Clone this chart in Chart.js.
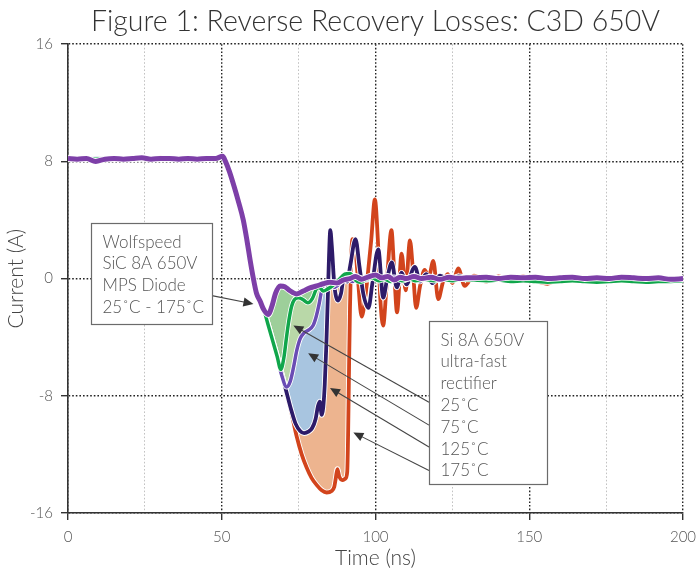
<!DOCTYPE html>
<html>
<head>
<meta charset="utf-8">
<script src="https://cdn.jsdelivr.net/npm/chart.js@4.4.1/dist/chart.umd.min.js"></script>
<style>
  html, body { margin: 0; padding: 0; background: #fff; }
  #wrap { width: 696px; height: 571px; }
</style>
</head>
<body>
<div id="wrap"><canvas id="chart" width="696" height="571"></canvas></div>
<script>
// ---- data (time in ns, current in A) ----

// steady forward-current part, shared time base
var flatT = [0, 3, 6, 9, 12, 15, 18, 21, 24, 27, 30, 33, 36, 39, 42, 45, 48];
// turn-off slope, same for every curve
var dropT = [50.3, 51.2, 52.5, 54, 55.5, 57, 58.2, 59.2, 60.2, 61.3, 62.5];
var dropI = [8.35, 8.0, 7.3, 6.3, 5.2, 4.0, 2.6, 1.3, 0.1, -1.0, -1.55];
// the Si rectifiers keep falling together a little longer
var siDropT = [63.5, 65, 66.5, 68];
var siDropI = [-2.0, -3.1, -4.2, -5.3];
// settled tail, shared time base
var tailT = [132, 136, 140, 144, 148, 152, 156, 160, 164, 168, 172, 176, 180, 184, 188, 192, 196, 200];

// Wolfspeed SiC MPS diode, 25-175 C (all on top of each other)
var sicFlat = [8.2, 8.15, 8.2, 8.0, 8.15, 8.2, 8.15, 8.2, 8.25, 8.15, 8.2, 8.2, 8.15, 8.2, 8.15, 8.2, 8.2];
var sicT = [63.6, 65.1, 66.3, 67.5, 69, 70.5, 72, 74.4, 76.5, 78.5, 80.9, 83, 85.2, 87.5, 89.5, 91.7, 93.5, 95.5, 97.5, 100, 102, 104, 106, 108, 110, 112.5, 115, 118, 121, 124, 127, 129.5];
var sicI = [-2.1, -2.45, -1.9, -1.0, -0.5, -0.55, -0.8, -1.05, -0.85, -0.65, -0.5, -0.35, -0.25, -0.3, -0.1, 0, 0.15, -0.05, 0.1, 0.25, 0.05, 0.15, -0.1, 0.1, 0, 0.15, 0, 0.1, -0.05, 0.1, 0, 0.05];
var sicTail = [0.05, 0.1, 0, 0.1, 0.05, 0.1, 0, 0.05, 0.1, 0, 0.05, 0, 0.1, 0.05, 0, 0.05, -0.05, 0];

// Si ultra-fast rectifier, 25 C
var si25Flat = [8.15, 8.2, 8.2, 8.15, 8.2, 8.25, 8.2, 8.2, 8.15, 8.25, 8.2, 8.15, 8.2, 8.25, 8.2, 8.2, 8.25];
var si25T = [69.2, 70.2, 71, 71.8, 72.7, 73.6, 75, 76.5, 78, 79.5, 80.8, 81.8, 83, 84.5, 86, 88, 90, 91.7, 93.5, 95, 97, 99, 101, 103, 105, 107, 109, 111, 113, 116, 119, 122, 125, 128];
var si25I = [-6.2, -5.4, -4.1, -2.9, -1.9, -1.45, -1.3, -1.45, -1.65, -1.35, -0.7, -0.6, -0.85, -0.7, -0.5, -0.1, 0.3, 0.35, -0.1, -0.25, -0.05, 0.05, -0.15, -0.05, -0.2, -0.05, -0.15, 0, -0.15, -0.05, -0.15, -0.05, -0.15, -0.05];
var si25Tail = [-0.1, -0.15, -0.1, -0.2, -0.15, -0.2, -0.25, -0.2, -0.15, -0.2, -0.25, -0.2, -0.15, -0.2, -0.25, -0.2, -0.2, -0.15];

// Si, 75 C
var si75Flat = [8.2, 8.2, 8.15, 8.2, 8.2, 8.15, 8.2, 8.25, 8.2, 8.2, 8.15, 8.2, 8.2, 8.15, 8.2, 8.2, 8.2];
var si75T = [69.5, 71.1, 72.3, 73.3, 74.4, 75.5, 76.8, 78.3, 79.7, 80.7, 81.6, 82.4, 83.2, 84.5, 86.5, 88.5, 90.5, 92.5, 94.5, 97, 100, 103, 106, 109, 112, 115, 118, 121, 124, 127, 130];
var si75I = [-6.6, -7.4, -7.0, -6.1, -4.9, -4.1, -3.7, -3.5, -3.2, -2.6, -1.8, -0.9, -0.35, -0.2, -0.6, -0.3, 0.1, -0.2, 0.1, -0.1, 0.15, -0.05, 0.1, 0, 0.1, -0.05, 0.05, 0, 0.05, 0, 0.05];
var si75Tail = [0, 0.05, -0.05, 0.05, 0, 0, 0.05, 0, -0.05, 0, 0.05, 0, 0, 0.05, 0, 0, 0, 0.05];

// Si, 125 C
var si125Flat = [8.2, 8.15, 8.2, 8.2, 8.15, 8.2, 8.2, 8.15, 8.2, 8.2, 8.2, 8.15, 8.2, 8.2, 8.2, 8.15, 8.2];
var si125T = [69.5, 71, 72.5, 74, 75.5, 76.8, 78.2, 79.4, 80.5, 81.3, 81.9, 82.5, 83, 83.5, 84, 84.5, 84.9, 85.3, 85.8, 86.6, 87.8, 88.8, 89.8, 90.8, 91.8, 93.5, 94.8, 96, 97.7, 99, 100.9, 102.5, 103.8, 105.3, 106.9, 108.5, 110, 112.8, 114.5, 116.5, 118.5, 121, 124, 127, 130];
var si125I = [-6.5, -7.7, -8.9, -9.9, -10.4, -10.55, -10.45, -10.2, -9.6, -8.7, -8.4, -9.3, -8.8, -7.2, -4.6, -1.2, 1.6, 3.3, 2.2, -0.4, -1.5, -1.0, 0.2, -0.2, 0.9, 2.7, 0.8, -1.0, -2.0, -0.3, 2.0, -1.3, 0, 1.1, -0.6, 0.4, -0.4, 0.8, -0.2, 0.3, -0.3, 0.2, -0.1, 0.15, 0];
var si125Tail = [-0.1, 0.1, 0, 0.05, -0.05, 0.05, 0, 0, 0.05, -0.05, 0, 0.05, 0, 0, 0.05, 0, 0, 0];

// Si, 175 C
var si175Flat = [8.15, 8.2, 8.2, 8.2, 8.2, 8.15, 8.2, 8.2, 8.2, 8.15, 8.25, 8.2, 8.2, 8.2, 8.15, 8.2, 8.2];
var si175T = [69.5, 71, 72.7, 74.4, 76, 77.6, 79.2, 80.9, 82.5, 84.1, 85.7, 86.6, 87.1, 87.6, 88.2, 89.2, 90.2, 90.8, 91.1, 91.4, 91.7, 92.0, 92.5, 93.2, 94.2, 95.5, 96.6, 97.6, 98.6, 99.8, 100.8, 101.6, 102.5, 103.6, 105.2, 106.0, 107.0, 108.5, 109.8, 111.2, 112.2, 113.2, 114.5, 116, 117.3, 118.8, 120.4, 122, 123.5, 125, 126.9, 129];
var si175I = [-6.5, -7.8, -9.2, -10.8, -12.0, -12.9, -13.6, -14.1, -14.45, -14.6, -14.5, -14.2, -13.6, -13.0, -13.5, -13.75, -13.65, -13.2, -10.5, -6, -2, 0.8, 2.7, 2.5, 0.2, -2.6, -1.4, 0.5, 2.6, 5.4, 2.5, -1.5, -3.2, -0.5, 3.3, 0.8, -2.3, 1.7, -0.8, 2.6, 0.5, -2.0, -0.5, 0.6, 0.1, 1.2, -1.4, -0.2, 0.3, -0.3, 0.7, -0.5];
var si175Tail = [0.2, -0.2, 0.15, -0.1, 0.15, -0.15, -0.35, 0.05, 0.1, -0.1, 0.05, 0.1, -0.05, 0, 0.1, -0.05, 0.05, 0];

var xTicks = [0, 50, 100, 150, 200];
var yTicks = [-16, -8, 0, 8, 16];

var FONT = 'Lato, "Open Sans", "Noto Sans", sans-serif';

// glue the pieces of one waveform into {x, y} points
function waveform(flatI, ownT, ownI, tailI, isSi) {
   var t = flatT.concat(dropT, isSi ? siDropT : [], ownT, tailT);
   var v = flatI.concat(dropI, isSi ? siDropI : [], ownI, tailI);
   var pts = [];
   for (var i = 0; i < t.length; i++) {
      pts.push({x: t[i], y: v[i]});
   }
   return pts;
}

// part of a waveform between two times, used for the shaded loss areas
function window_(pts, t0, t1) {
   return pts.filter(function(p) { return p.x >= t0 && p.x <= t1; });
}

var sic = waveform(sicFlat, sicT, sicI, sicTail, false);
var si25 = waveform(si25Flat, si25T, si25I, si25Tail, true);
var si75 = waveform(si75Flat, si75T, si75I, si75Tail, true);
var si125 = waveform(si125Flat, si125T, si125I, si125Tail, true);
var si175 = waveform(si175Flat, si175T, si175I, si175Tail, true);

function lineSet(label, pts, color, width, order) {
   return {
      label: label,
      data: pts,
      borderColor: color,
      borderWidth: width,
      pointRadius: 0,
      fill: false,
      cubicInterpolationMode: 'monotone',
      order: order
   };
}

function areaSet(pts, color, order) {
   return {
      data: pts,
      borderWidth: 0,
      borderColor: 'rgba(0,0,0,0)',
      backgroundColor: color,
      pointRadius: 0,
      fill: {target: 0},
      cubicInterpolationMode: 'monotone',
      order: order
   };
}

var datasets = [
   // 0: SiC window that the loss areas are filled up to
   {
      data: window_(sic, 58, 100),
      borderWidth: 0,
      borderColor: 'rgba(0,0,0,0)',
      pointRadius: 0,
      fill: false,
      cubicInterpolationMode: 'monotone',
      order: 20
   },
   areaSet(window_(si175, 62, 92), '#edb48f', 13),
   areaSet(window_(si125, 62, 84.6), '#a8c5e0', 12),
   areaSet(window_(si75, 62, 83.3), '#b9d8a8', 11),
   areaSet(window_(si25, 62, 82), '#9dcf9a', 10),
   // thin white edge under every trace, like the original artwork
   lineSet('', si175, '#ffffff', 5.6, 5.5),
   lineSet('Si 175C', si175, '#d2441c', 3.8, 5),
   lineSet('', si125, '#ffffff', 5.6, 4.5),
   lineSet('Si 125C', si125, '#2d1b69', 3.8, 4),
   lineSet('', si75, '#ffffff', 5.2, 3.5),
   lineSet('Si 75C', si75, '#6a4cb4', 3.5, 3),
   lineSet('', si25, '#ffffff', 5.2, 2.5),
   lineSet('Si 25C', si25, '#10a64b', 3.5, 2),
   lineSet('', sic, '#ffffff', 6.6, 1.5),
   lineSet('SiC 25-175C', sic, '#7d3fa8', 5, 1)
];

// text boxes and arrows, placed in data units
var sicNote = {t0: 7.5, t1: 46.8, i0: 3.8, i1: -3.1,
   lines: ['Wolfspeed', 'SiC 8A 650V', 'MPS Diode', '25\u02DAC - 175\u02DAC']};
var siNote = {t0: 117.4, t1: 155.7, i0: -2.9, i1: -14.05,
   lines: ['Si 8A 650V', 'ultra-fast', 'rectifier', '25\u02DAC', '75\u02DAC', '125\u02DAC', '175\u02DAC']};
var arrows = [
   [46.8, -1.16, 60.3, -1.73],
   [117.4, -8.44, 73.3, -3.2],
   [117.4, -10.0, 78.1, -5.1],
   [117.4, -11.5, 85.2, -7.46],
   [117.4, -13.1, 92.8, -10.5]
];

var notesPlugin = {
   id: 'notes',
   afterDatasetsDraw: function(chart) {
      var ctx = chart.ctx;
      var xs = chart.scales.x, ys = chart.scales.y;

      function box(n) {
         var x0 = Math.round(xs.getPixelForValue(n.t0)) + 0.5;
         var x1 = Math.round(xs.getPixelForValue(n.t1)) + 0.5;
         var y0 = Math.round(ys.getPixelForValue(n.i0)) + 0.5;
         var y1 = Math.round(ys.getPixelForValue(n.i1)) + 0.5;
         ctx.fillStyle = '#fff';
         ctx.fillRect(x0, y0, x1 - x0, y1 - y0);
         ctx.strokeStyle = '#6b6b6b';
         ctx.lineWidth = 1.2;
         ctx.strokeRect(x0, y0, x1 - x0, y1 - y0);
         ctx.fillStyle = '#555';
         ctx.font = '300 17px ' + FONT;
         ctx.textAlign = 'left';
         ctx.textBaseline = 'alphabetic';
         for (var i = 0; i < n.lines.length; i++) {
            ctx.fillText(n.lines[i], x0 + 11, y0 + 24 + i * 21.8);
         }
      }

      ctx.save();
      // arrows first, boxes sit on their tails
      ctx.strokeStyle = '#444';
      ctx.fillStyle = '#333';
      ctx.lineWidth = 1.1;
      arrows.forEach(function(a) {
         var x0 = xs.getPixelForValue(a[0]), y0 = ys.getPixelForValue(a[1]);
         var x1 = xs.getPixelForValue(a[2]), y1 = ys.getPixelForValue(a[3]);
         var ang = Math.atan2(y1 - y0, x1 - x0);
         ctx.beginPath();
         ctx.moveTo(x0, y0);
         ctx.lineTo(x1 - 6 * Math.cos(ang), y1 - 6 * Math.sin(ang));
         ctx.stroke();
         ctx.beginPath();
         ctx.moveTo(x1, y1);
         ctx.lineTo(x1 - 10 * Math.cos(ang) + 4.5 * Math.sin(ang), y1 - 10 * Math.sin(ang) - 4.5 * Math.cos(ang));
         ctx.lineTo(x1 - 10 * Math.cos(ang) - 4.5 * Math.sin(ang), y1 - 10 * Math.sin(ang) + 4.5 * Math.cos(ang));
         ctx.closePath();
         ctx.fill();
      });
      box(sicNote);
      box(siNote);
      ctx.restore();
   }
};

var ctx = document.getElementById('chart').getContext('2d');
new Chart(ctx, {
   type: 'line',
   data: {datasets: datasets},
   plugins: [notesPlugin],
   options: {
      responsive: false,
      animation: false,
      layout: {padding: {left: 0, right: 13, top: 0, bottom: 0}},
      plugins: {
         legend: {display: false},
         tooltip: {enabled: false},
         filler: {drawTime: 'beforeDatasetsDraw'},
         title: {
            display: true,
            text: 'Figure 1: Reverse Recovery Losses: C3D 650V',
            fullSize: false,
            color: '#333',
            font: {family: FONT, size: 28.5, weight: 300, lineHeight: 1.2},
            padding: {top: 5, bottom: 5}
         }
      },
      scales: {
         x: {
            type: 'linear',
            min: 0,
            max: 200,
            afterFit: function(scale) {
               scale.height = 58;
               // let the "200" label hang into the right margin
               scale.paddingLeft = 0;
               scale.paddingRight = 0;
            },
            afterBuildTicks: function(scale) {
               // grid every 25 ns, labels only on xTicks
               var t = [];
               for (var v = 0; v <= 200; v += 25) t.push({value: v});
               scale.ticks = t;
            },
            ticks: {
               autoSkip: false,
               maxRotation: 0,
               padding: 8,
               color: '#555',
               font: {family: FONT, size: 15, weight: 300},
               callback: function(v) { return xTicks.indexOf(v) >= 0 ? String(v) : ''; }
            },
            grid: {
               color: function(c) { return xTicks.indexOf(c.tick.value) >= 0 ? '#222' : '#c2c2c2'; },
               lineWidth: function(c) { return xTicks.indexOf(c.tick.value) >= 0 ? 1.4 : 1; },
               tickColor: function(c) { return xTicks.indexOf(c.tick.value) >= 0 ? '#333' : 'rgba(0,0,0,0)'; },
               tickLength: 7
            },
            border: {color: '#333', width: 1.6, dash: [1.6, 2]},
            title: {
               display: true,
               text: 'Time (ns)',
               color: '#444',
               font: {family: FONT, size: 21, weight: 300, lineHeight: 1.2},
               padding: {top: 0, bottom: 0}
            }
         },
         y: {
            type: 'linear',
            min: -16,
            max: 16,
            afterFit: function(scale) {
               scale.width = 68;
               scale.paddingTop = 0;
               scale.paddingBottom = 0;
            },
            afterBuildTicks: function(scale) {
               scale.ticks = yTicks.map(function(v) { return {value: v}; });
            },
            ticks: {
               padding: 8,
               color: '#555',
               font: {family: FONT, size: 15, weight: 300}
            },
            grid: {
               color: '#222',
               lineWidth: 1.4,
               tickColor: '#333',
               tickLength: 7
            },
            border: {color: '#333', width: 1.6, dash: [1.6, 2]},
            title: {
               display: true,
               text: 'Current (A)',
               color: '#444',
               font: {family: FONT, size: 21, weight: 300, lineHeight: 1.2},
               padding: {top: 4, bottom: 0}
            }
         }
      }
   }
});
</script>
</body>
</html>
